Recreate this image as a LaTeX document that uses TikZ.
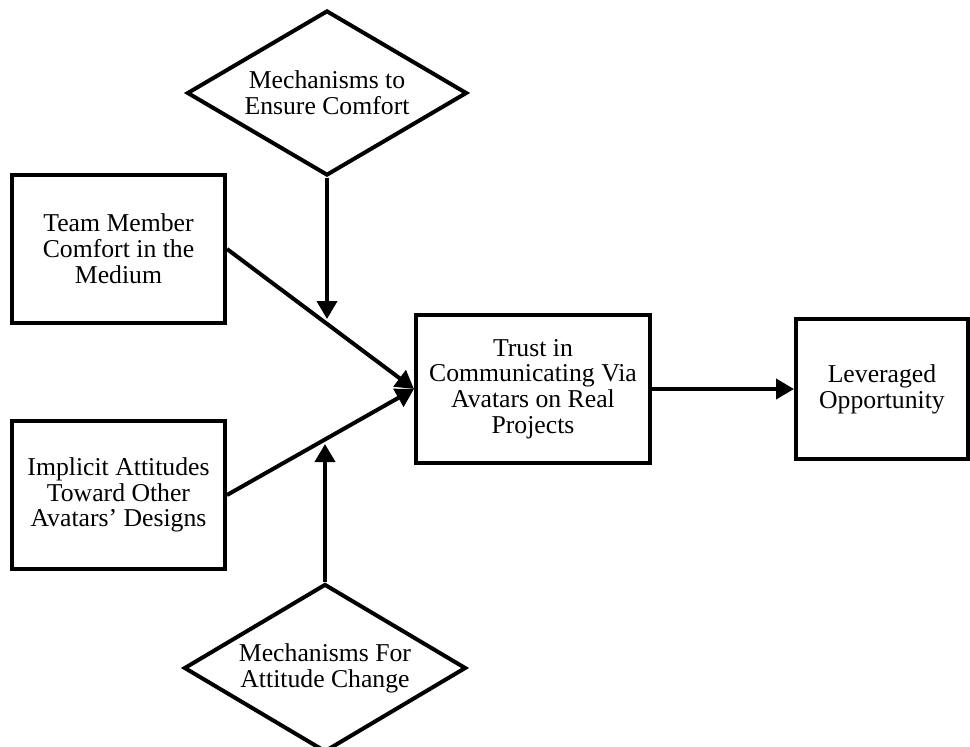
\documentclass[tikz,border=0pt]{standalone}
\usepackage{fontspec}
\setmainfont{Liberation Serif}
\usetikzlibrary{shapes.geometric,arrows.meta}

\tikzset{
	box/.style={shape=rectangle,draw=black,line width=2pt,align=center,
		font=\fontsize{12.85}{12.9}\selectfont},
	diam/.style={shape=diamond,shape aspect=1.7,draw=black,line width=2pt,align=center,inner sep=0pt,
		font=\fontsize{12.85}{12.9}\selectfont},
	arr/.style={line width=2pt,-{Triangle[length=9pt,width=10pt]}}
}

\begin{document}
\begin{tikzpicture}[x=0.5pt,y=-0.5pt]
	\useasboundingbox (0,0) rectangle (970,746);
	
	\node[diam,minimum width=140pt,minimum height=82.5pt] (a) at (327, 93)     {Mechanisms to\\Ensure Comfort};
	\node[box,minimum width=106.5pt,minimum height=74pt] (b) at (118.5, 249)  {Team Member\\Comfort in the\\Medium};
	\node[box,minimum width=106.5pt,minimum height=74pt] (c) at (118.5, 495)  {Implicit Attitudes\\Toward Other\\Avatars' Designs};
	\node[diam,minimum width=141pt,minimum height=84pt] (d) at (325, 668)     {Mechanisms For\\Attitude Change};
	
	\node[box,minimum width=117pt,minimum height=74pt] (e) at (533, 389)      {Trust in\\Communicating Via\\Avatars on Real\\Projects};
	\node[box,minimum width=86pt,minimum height=70pt] (f) at (882, 389)       {Leveraged\\Opportunity};
	
	\coordinate (p) at (327, 319);
	\coordinate (q) at (325, 444);
	
	\path[arr] (b.east) edge (e.west);
	\path[arr] (c.east) edge (e.west);
	\path[arr] (a.south) edge (p);
	\path[arr] (d.north) edge (q);
	\path[arr] (e.east) edge (f.west);
\end{tikzpicture}
\end{document}
